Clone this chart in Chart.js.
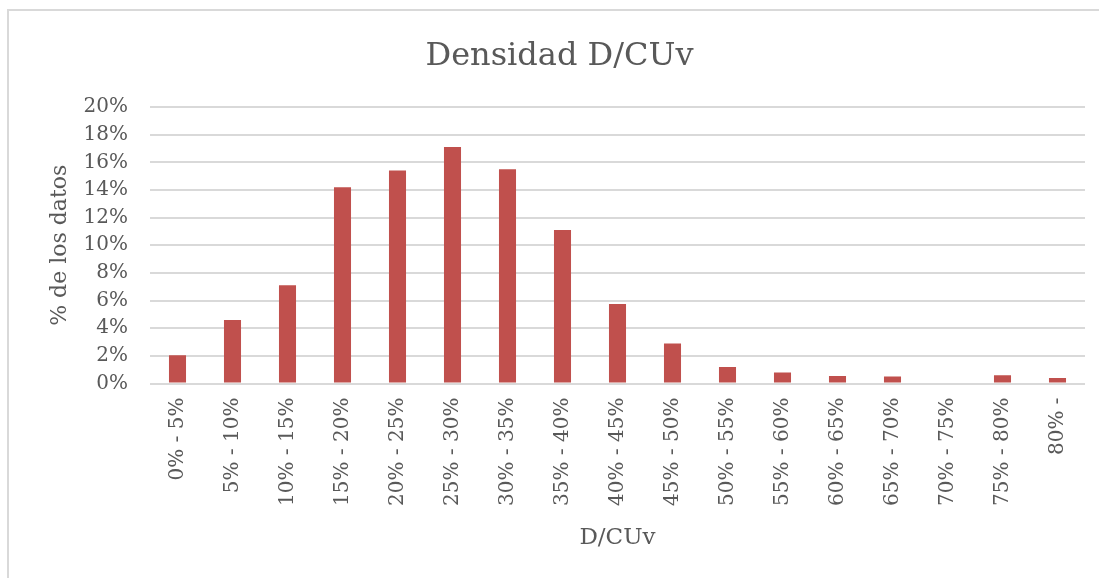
<!DOCTYPE html>
<html>
<head>
<meta charset="utf-8">
<script src="https://cdn.jsdelivr.net/npm/chart.js@4.4.1/dist/chart.umd.min.js"></script>
<style>
  html, body { margin: 0; padding: 0; background: #ffffff; }
  #wrap { width: 1099px; height: 578px; }
</style>
</head>
<body>
<div id="wrap"><canvas id="c" width="1099" height="578"></canvas></div>
<script>
const categories = ['0% - 5%', '5% - 10%', '10% - 15%', '15% - 20%', '20% - 25%', '25% - 30%', '30% - 35%', '35% - 40%', '40% - 45%', '45% - 50%', '50% - 55%', '55% - 60%', '60% - 65%', '65% - 70%', '70% - 75%', '75% - 80%', '80% -'];
const densityValues = [2.05, 4.6, 7.1, 14.2, 15.4, 17.1, 15.5, 11.1, 5.75, 2.9, 1.2, 0.8, 0.55, 0.5, 0, 0.6, 0.4];
const yTickMin = 0;
const yTickMax = 20;
const yTickStep = 2;
const chartTitle = 'Densidad D/CUv';
const xAxisTitle = 'D/CUv';
const yAxisTitle = '% de los datos';

const FONT = "'DejaVu Serif', 'Liberation Serif', serif";
const TEXT = '#595959';
const GRID = '#d9d9d9';
const BAR = '#c0504d';

const borderPlugin = {
  id: 'outerBorder',
  beforeDraw(chart) {
    const ctx = chart.ctx;
    ctx.save();
    ctx.fillStyle = '#ffffff';
    ctx.fillRect(0, 0, chart.width, chart.height);
    ctx.fillStyle = GRID;
    ctx.fillRect(7, 9, chart.width - 7, 2);
    ctx.fillRect(7, 9, 2, chart.height - 9);
    ctx.restore();
  }
};

new Chart(document.getElementById('c'), {
  type: 'bar',
  data: {
    labels: categories,
    datasets: [{
      data: densityValues,
      backgroundColor: BAR,
      borderWidth: 0,
      categoryPercentage: 1,
      barPercentage: 0.31
    }]
  },
  options: {
    responsive: false,
    animation: false,
    devicePixelRatio: 1,
    layout: { padding: { left: 34, right: 14, top: 0, bottom: 0 } },
    plugins: {
      legend: { display: false },
      tooltip: { enabled: false },
      title: {
        display: true,
        text: chartTitle,
        color: TEXT,
        font: { family: FONT, size: 32, weight: 'normal', lineHeight: 1.2 },
        padding: { top: 37, bottom: 31.6 }
      }
    },
    scales: {
      x: {
        grid: { display: false, drawTicks: false },
        border: { display: false },
        ticks: {
          color: TEXT,
          font: { family: FONT, size: 20 },
          minRotation: 90,
          maxRotation: 90,
          autoSkip: false,
          padding: 14
        },
        title: {
          display: true,
          text: xAxisTitle,
          color: TEXT,
          font: { family: FONT, size: 23, lineHeight: 1.2 },
          padding: { top: 0, bottom: 26 }
        },
        afterFit(scale) { scale.height = 194.5; }
      },
      y: {
        min: yTickMin,
        max: yTickMax,
        grid: { color: GRID, lineWidth: 2, drawTicks: false },
        border: { display: false },
        ticks: {
          stepSize: yTickStep,
          color: TEXT,
          font: { family: FONT, size: 20 },
          padding: 22,
          callback: (v) => v + '%'
        },
        title: {
          display: true,
          text: yAxisTitle,
          color: TEXT,
          font: { family: FONT, size: 22, lineHeight: 1.2 },
          padding: { top: 13, bottom: 0 }
        },
        afterFit(scale) { scale.width = 116; }
      }
    }
  },
  plugins: [borderPlugin]
});
</script>
</body>
</html>
